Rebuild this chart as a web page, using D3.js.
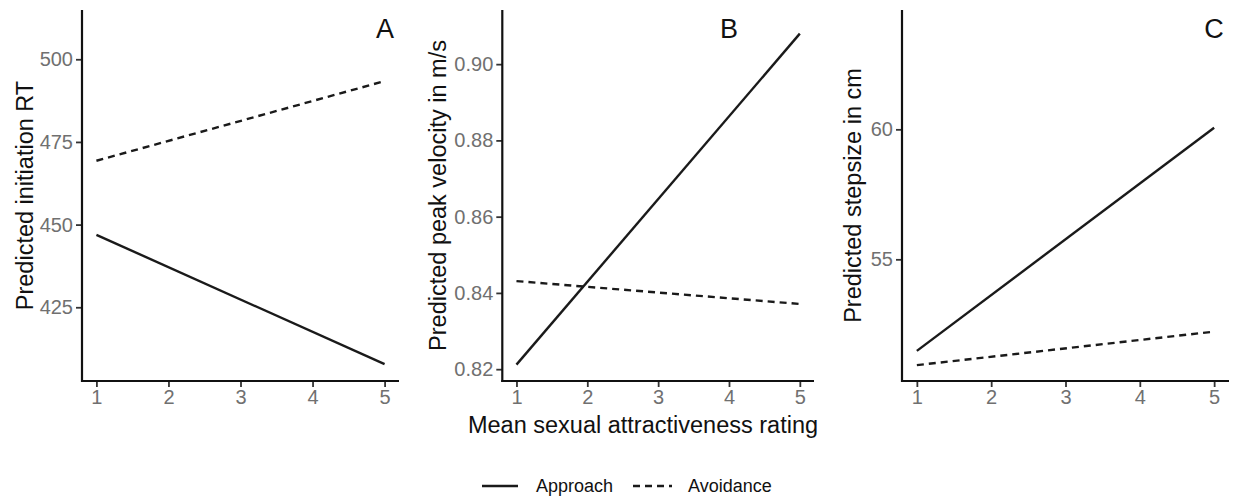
<!DOCTYPE html>
<html>
<head>
<meta charset="utf-8">
<script src="https://cdn.jsdelivr.net/npm/d3@7"></script>
<style>
  html, body { margin: 0; padding: 0; background: #fff; }
  svg { display: block; font-family: "Liberation Sans", Arial, sans-serif; }
  svg text { font-family: "Liberation Sans", Arial, sans-serif; }
</style>
</head>
<body>
<svg id="chart" width="1234" height="497"></svg>
<script>
// ---- data ----
const xValues = [1, 5];
const xTicks = [1, 2, 3, 4, 5];
const seriesNames = ["Approach", "Avoidance"];
const panelLabels = ["A", "B", "C"];
const yTitles = ["Predicted initiation RT", "Predicted peak velocity in m/s", "Predicted stepsize in cm"];
const xTitle = "Mean sexual attractiveness rating";

const approachA = [446.9, 407.8];
const avoidanceA = [469.3, 493.4];
const yTicksA = [425, 450, 475, 500];
const yDomainA = [402.7, 514.9];

const approachB = [0.8212, 0.908];
const avoidanceB = [0.8431, 0.8371];
const yTicksB = [0.82, 0.84, 0.86, 0.88, 0.90];
const yDomainB = [0.8169, 0.9142];

const approachC = [51.48, 60.06];
const avoidanceC = [50.93, 52.22];
const yTicksC = [55, 60];
const yDomainC = [50.32, 64.59];

const xDomain = [0.8, 5.2];

// ---- layout ----
const svg = d3.select("#chart");
const plotTop = 10, plotBottom = 381;
const panelDefs = [
  { left: 82, right: 399, app: approachA, avo: avoidanceA, ticks: yTicksA, dom: yDomainA, fmt: d3.format("d"), titleX: 25, labelX: 385 },
  { left: 502.3, right: 814, app: approachB, avo: avoidanceB, ticks: yTicksB, dom: yDomainB, fmt: d3.format(".2f"), titleX: 438, labelX: 729 },
  { left: 902, right: 1229, app: approachC, avo: avoidanceC, ticks: yTicksC, dom: yDomainC, fmt: d3.format("d"), titleX: 853, labelX: 1214 }
];
const dashes = ["none", "7,5"];
const lineColor = "#1a1a1a";
const tickFont = 20;

panelDefs.forEach((p, i) => {
  const x = d3.scaleLinear().domain(xDomain).range([p.left, p.right]);
  const y = d3.scaleLinear().domain(p.dom).range([plotBottom, plotTop]);
  const g = svg.append("g");

  const gx = g.append("g").attr("transform", `translate(0,${plotBottom})`)
    .call(d3.axisBottom(x).tickValues(xTicks).tickFormat(d3.format("d")).tickSize(6).tickPadding(3).tickSizeOuter(0));
  const gy = g.append("g").attr("transform", `translate(${p.left},0)`)
    .call(d3.axisLeft(y).tickValues(p.ticks).tickFormat(p.fmt).tickSize(6).tickPadding(3).tickSizeOuter(0));

  [gx, gy].forEach(a => {
    a.attr("font-size", tickFont).attr("font-family", "Liberation Sans, Arial, sans-serif");
    a.select(".domain").remove();
    a.selectAll(".tick line").attr("stroke", "#333").attr("stroke-width", 1.8);
    a.selectAll(".tick text").attr("fill", "#707070").style("font-size", tickFont + "px");
  });
  g.append("line").attr("x1", p.left).attr("x2", p.left).attr("y1", plotTop).attr("y2", plotBottom + 1)
    .attr("stroke", "#111").attr("stroke-width", 2.2);
  g.append("line").attr("x1", p.left - 1).attr("x2", p.right).attr("y1", plotBottom).attr("y2", plotBottom)
    .attr("stroke", "#111").attr("stroke-width", 2.2);

  const line = d3.line().x((d, k) => x(xValues[k])).y(d => y(d));
  [p.app, p.avo].forEach((vals, s) => {
    g.append("path").datum(vals).attr("d", line)
      .attr("fill", "none").attr("stroke", lineColor).attr("stroke-width", 2.4)
      .attr("stroke-dasharray", dashes[s]);
  });

  g.append("text")
    .attr("transform", `translate(${p.titleX},${(plotTop + plotBottom) / 2}) rotate(-90)`)
    .attr("text-anchor", "middle").attr("dominant-baseline", "central")
    .attr("font-size", 23.5).attr("fill", "#111")
    .text(yTitles[i]);

  g.append("text").attr("x", p.labelX).attr("y", 38)
    .attr("text-anchor", "middle").attr("font-size", 27).attr("fill", "#111")
    .text(panelLabels[i]);
});

svg.append("text").attr("x", 643).attr("y", 433)
  .attr("text-anchor", "middle").attr("font-size", 23.5).attr("fill", "#111")
  .text(xTitle);

const legendItems = [
  { x1: 482, x2: 518, tx: 536 },
  { x1: 633, x2: 672, tx: 688 }
];
legendItems.forEach((l, s) => {
  svg.append("line").attr("x1", l.x1).attr("x2", l.x2).attr("y1", 486).attr("y2", 486)
    .attr("stroke", lineColor).attr("stroke-width", 2.4).attr("stroke-dasharray", dashes[s]);
  svg.append("text").attr("x", l.tx).attr("y", 486).attr("dominant-baseline", "central")
    .attr("font-size", 18).attr("fill", "#111").text(seriesNames[s]);
});
</script>
</body>
</html>
